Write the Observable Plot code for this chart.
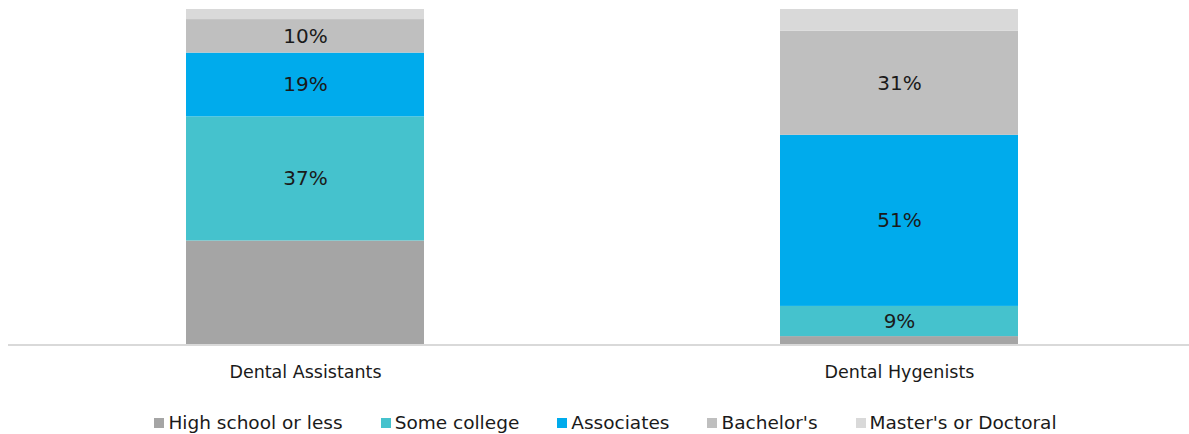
<!DOCTYPE html>
<html>
<head>
<meta charset="utf-8">
<script src="https://cdn.jsdelivr.net/npm/d3@7"></script>
<script src="https://cdn.jsdelivr.net/npm/@observablehq/plot@0.6"></script>
<style>
  body { margin: 0; background: #fff; font-family: "DejaVu Sans", sans-serif; }
  #legend { display: flex; justify-content: center; gap: 38px; margin-top: 19px; padding-left: 22px; font-size: 18.5px; color: #1a1a1a; }
  #legend .item { display: flex; align-items: center; gap: 4px; }
  #legend .sw { width: 10px; height: 10px; display: inline-block; }
</style>
</head>
<body>
<div id="chart"></div>
<script>
const categories = ["Dental Assistants", "Dental Hygenists"];
const levels = ["High school or less", "Some college", "Associates", "Bachelor's", "Master's or Doctoral"];
const assistantsValues = [31, 37, 19, 10, 3];
const hygienistsValues = [2.5, 9, 51, 31, 6.5];
const colors = ["#a5a5a5", "#45c2cd", "#00abec", "#bfbfbf", "#d9d9d9"];
const labeledLevels = ["Some college", "Associates", "Bachelor's"];

const seriesByCategory = [assistantsValues, hygienistsValues];
const data = [];
categories.forEach((c, i) => {
  levels.forEach((l, j) => data.push({category: c, level: l, value: seriesByCategory[i][j]}));
});

const W = 1189, H = 393;
const plot = Plot.plot({
  width: W,
  height: H,
  marginTop: 9,
  marginBottom: H - 344.5,
  marginLeft: 8,
  marginRight: 0,
  style: {fontFamily: "DejaVu Sans, sans-serif", fontSize: "17.5px", color: "#1a1a1a", background: "#fff"},
  x: {domain: categories, range: [8, 1196], paddingInner: 0.6, paddingOuter: 0.3, label: null, tickSize: 0, tickPadding: 21},
  y: {domain: [0, 100], axis: null},
  color: {domain: levels, range: colors},
  marks: [
    Plot.barY(data, Plot.stackY({x: "category", y: "value", fill: "level", order: null})),
    Plot.ruleY([0], {stroke: "#d9d9d9", strokeWidth: 2}),
    Plot.text(data, Plot.stackY({
      x: "category", y: "value", order: null,
      text: d => labeledLevels.includes(d.level) ? Math.round(d.value) + "%" : "",
      fill: "#1a1a1a", fontSize: 20
    }))
  ]
});
document.getElementById("chart").appendChild(plot);

const legend = document.createElement("div");
legend.id = "legend";
levels.forEach((l, j) => {
  const it = document.createElement("span");
  it.className = "item";
  const sw = document.createElement("span");
  sw.className = "sw";
  sw.style.background = colors[j];
  it.appendChild(sw);
  it.appendChild(document.createTextNode(l));
  legend.appendChild(it);
});
document.body.appendChild(legend);
</script>
</body>
</html>
